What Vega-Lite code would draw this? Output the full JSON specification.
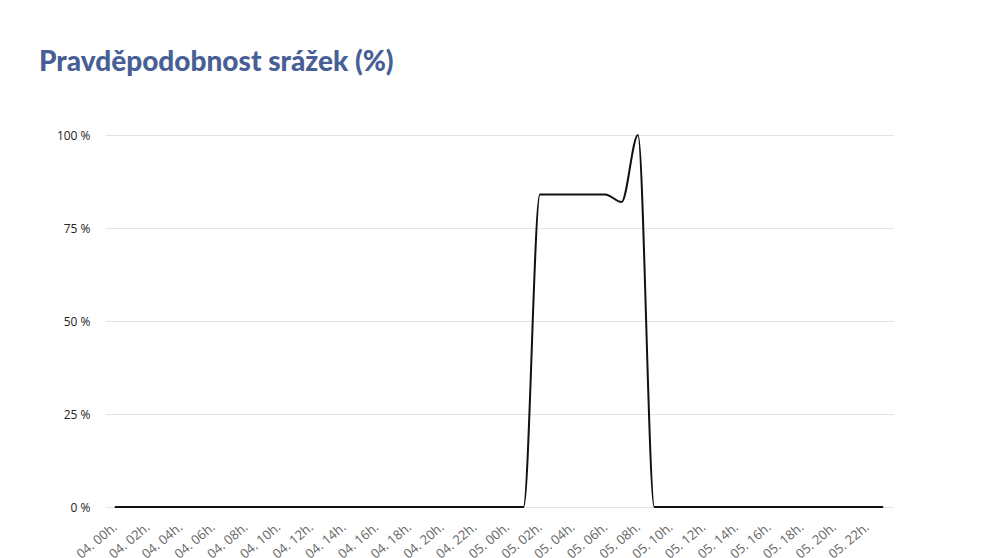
{
  "$schema": "https://vega.github.io/schema/vega-lite/v6.json",
  "autosize": "none",
  "padding": {"left": 105, "top": 135, "right": 98, "bottom": 51},
  "width": 788,
  "height": 372,
  "background": "white",
  "title": {
    "text": "Pravděpodobnost srážek (%)",
    "anchor": "start",
    "frame": "group",
    "dx": -66,
    "offset": 52,
    "font": "Lato",
    "fontSize": 28,
    "fontWeight": 900,
    "color": "#485f95"
  },
  "data": {
    "values": [
      {"t": "04. 00h.", "p": 0}, {"t": "04. 01h.", "p": 0},
      {"t": "04. 02h.", "p": 0}, {"t": "04. 03h.", "p": 0},
      {"t": "04. 04h.", "p": 0}, {"t": "04. 05h.", "p": 0},
      {"t": "04. 06h.", "p": 0}, {"t": "04. 07h.", "p": 0},
      {"t": "04. 08h.", "p": 0}, {"t": "04. 09h.", "p": 0},
      {"t": "04. 10h.", "p": 0}, {"t": "04. 11h.", "p": 0},
      {"t": "04. 12h.", "p": 0}, {"t": "04. 13h.", "p": 0},
      {"t": "04. 14h.", "p": 0}, {"t": "04. 15h.", "p": 0},
      {"t": "04. 16h.", "p": 0}, {"t": "04. 17h.", "p": 0},
      {"t": "04. 18h.", "p": 0}, {"t": "04. 19h.", "p": 0},
      {"t": "04. 20h.", "p": 0}, {"t": "04. 21h.", "p": 0},
      {"t": "04. 22h.", "p": 0}, {"t": "04. 23h.", "p": 0},
      {"t": "05. 00h.", "p": 0}, {"t": "05. 01h.", "p": 0},
      {"t": "05. 02h.", "p": 84}, {"t": "05. 03h.", "p": 84},
      {"t": "05. 04h.", "p": 84}, {"t": "05. 05h.", "p": 84},
      {"t": "05. 06h.", "p": 84}, {"t": "05. 07h.", "p": 82},
      {"t": "05. 08h.", "p": 100}, {"t": "05. 09h.", "p": 0},
      {"t": "05. 10h.", "p": 0}, {"t": "05. 11h.", "p": 0},
      {"t": "05. 12h.", "p": 0}, {"t": "05. 13h.", "p": 0},
      {"t": "05. 14h.", "p": 0}, {"t": "05. 15h.", "p": 0},
      {"t": "05. 16h.", "p": 0}, {"t": "05. 17h.", "p": 0},
      {"t": "05. 18h.", "p": 0}, {"t": "05. 19h.", "p": 0},
      {"t": "05. 20h.", "p": 0}, {"t": "05. 21h.", "p": 0},
      {"t": "05. 22h.", "p": 0}, {"t": "05. 23h.", "p": 0}
    ]
  },
  "mark": {"type": "line", "interpolate": "monotone", "color": "#111111", "strokeWidth": 2},
  "encoding": {
    "x": {
      "field": "t",
      "type": "ordinal",
      "sort": null,
      "scale": {"type": "point", "padding": 0.6},
      "axis": {
        "title": null,
        "values": ["04. 00h.", "04. 02h.", "04. 04h.", "04. 06h.", "04. 08h.", "04. 10h.", "04. 12h.", "04. 14h.", "04. 16h.", "04. 18h.", "04. 20h.", "04. 22h.", "05. 00h.", "05. 02h.", "05. 04h.", "05. 06h.", "05. 08h.", "05. 10h.", "05. 12h.", "05. 14h.", "05. 16h.", "05. 18h.", "05. 20h.", "05. 22h."],
        "labelAngle": -40,
        "labelAlign": "right",
        "labelBaseline": "middle",
        "labelPadding": 18,
        "labelFont": "Open Sans",
        "labelFontSize": 13,
        "labelColor": "#666666",
        "domain": false,
        "ticks": false,
        "grid": false
      }
    },
    "y": {
      "field": "p",
      "type": "quantitative",
      "scale": {"domain": [0, 100]},
      "axis": {
        "title": null,
        "values": [0, 25, 50, 75, 100],
        "labelExpr": "datum.value + ' %'",
        "labelFont": "Open Sans",
        "labelFontSize": 12,
        "labelColor": "#222222",
        "labelPadding": 15,
        "domain": false,
        "ticks": false,
        "gridColor": "#e3e3e3",
        "gridWidth": 1
      }
    }
  },
  "config": {"view": {"stroke": null}}
}
